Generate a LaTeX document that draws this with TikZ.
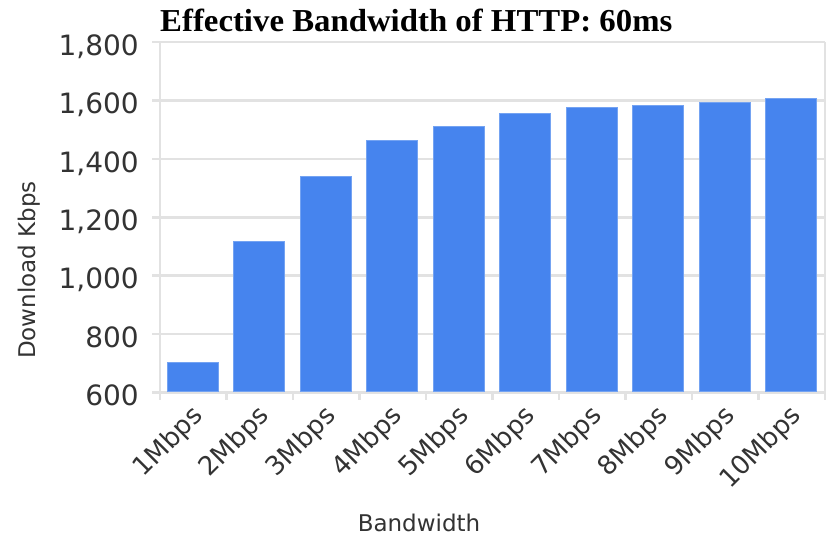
\documentclass[tikz,border=0pt]{standalone}
\usepackage{fontspec}
\setmainfont{DejaVu Sans}
\newfontfamily\titlefont{Liberation Serif}
\definecolor{barblue}{HTML}{4684EE}
\definecolor{gridgray}{HTML}{E2E2E2}
\begin{document}
\begin{tikzpicture}[x=1pt,y=-1pt,
  gridline/.style={draw=gridgray,line width=2.5pt},
  barbox/.style={fill=barblue,draw=barblue!75!white,line width=0.6pt},
  ylab/.style={font=\fontsize{28}{28}\selectfont,anchor=east,text height=20.4pt,text depth=0pt,inner sep=0pt,text=black!80},
  xlab/.style={font=\fontsize{26}{26}\selectfont,anchor=north east,rotate=45,inner sep=0pt,text=black!80},
  axtitle/.style={font=\fontsize{23}{23}\selectfont,inner sep=0pt,text=black!80}]
\useasboundingbox (0,0) rectangle (828,536);
% horizontal grid lines and y labels
\foreach \v/\t in {600/600,800/800,1000/{1,000},1200/{1,200},1400/{1,400},1600/{1,600},1800/{1,800}} {
  \pgfmathsetmacro{\yy}{392.5-(\v-600)*0.29208}
  \draw[gridline] (152,\yy) -- (825,\yy);
  \node[ylab] (y\v) at (139,\yy+3) {\t};
}
% vertical axis lines
\draw[gridline] (160,42) -- (160,400);
\draw[gridline] (825,42) -- (825,400);
% ticks
\foreach \k in {1,...,9} {
  \draw[gridline] (160+66.5*\k,392.5) -- (160+66.5*\k,400);
}
% bars
\foreach \i/\v/\t in {0/705/1Mbps,1/1119/2Mbps,2/1339/3Mbps,3/1465/4Mbps,4/1513/5Mbps,5/1556/6Mbps,6/1577/7Mbps,7/1582/8Mbps,8/1595/9Mbps,9/1606/10Mbps} {
  \pgfmathsetmacro{\xl}{160+66.5*\i+7}
  \pgfmathsetmacro{\yt}{392.5-(\v-600)*0.29208}
  \fill[barbox] (\xl,391.3) rectangle (\xl+51,\yt);
  \node[xlab] (x\i) at (160+66.5*\i+30,403) {\t};
}
% titles
\node[anchor=base west,inner sep=0pt] (title) at (160,31.5) {\resizebox{512pt}{22.5pt}{\titlefont\bfseries Effective Bandwidth of HTTP: 60ms}};
\node[axtitle,rotate=90] (ytitle) at (29,270) {Download Kbps};
\node[axtitle,anchor=base] (xtitle) at (419,531) {Bandwidth};
\end{tikzpicture}
\end{document}
